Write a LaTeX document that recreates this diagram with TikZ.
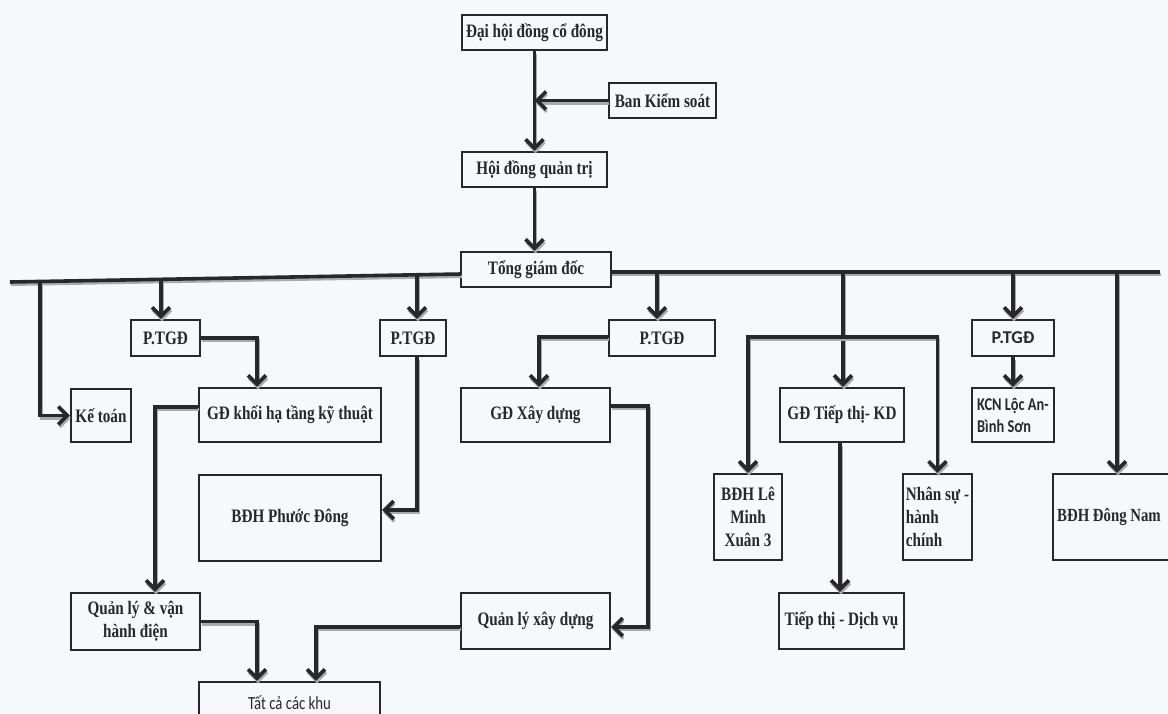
\documentclass[tikz,border=0pt]{standalone}
\usepackage{fontspec}
\newfontfamily\tnr[FakeStretch=0.8]{Liberation Serif}
\newfontfamily\calfont[FakeStretch=0.8]{Carlito}
\newfontfamily\calbfont{Carlito}
\usetikzlibrary{arrows.meta}
\definecolor{bgc}{RGB}{247,248,251}
\definecolor{ink}{RGB}{40,40,42}
\definecolor{shadowc}{RGB}{170,170,175}
\tikzset{
  box/.style={draw=ink, line width=2.4pt, fill=bgc, inner sep=2pt, text=ink,
    font=\tnr\bfseries\fontsize{19}{23}\selectfont, align=center},
  sz/.style 2 args={minimum width=#1pt, minimum height=#2pt},
  wire/.style={draw=ink, line width=3.6pt,
    preaction={draw=shadowc, line width=3pt, transform canvas={shift={(1pt,-2.5pt)}}}},
  conn/.style={wire, -{Straight Barb[length=9pt,width=18pt]}},
  calibrib/.style={font=\calbfont\bfseries\fontsize{18}{22}\selectfont},
  calibriw/.style={font=\calfont\bfseries\fontsize{18}{22}\selectfont},
}
\begin{document}
\begin{tikzpicture}[x=1pt,y=-1pt]
\fill[bgc] (0,0) rectangle (1168,713);
\useasboundingbox (0,0) rectangle (1168,713);
\clip (0,0) rectangle (1168,713);

% nodes
\node[box, sz={145}{35}] (dhcd) at (534.5,32.5) {Đại hội đồng cổ đông};
\node[box, sz={107}{35}] (bks) at (662.5,100.5) {Ban Kiểm soát};
\node[box, sz={145}{35}] (hdqt) at (534.5,169.5) {Hội đồng quản trị};
\node[box, sz={150}{35}] (tgd) at (536,269.5) {Tổng giám đốc};

\node[box, sz={60}{53}] (kt) at (101,415.5) {Kế toán};
\node[box, sz={69}{36}] (ptgd1) at (165.5,338) {P.TGĐ};
\node[box, sz={182}{54}] (gdk) at (290,415) {GĐ khối hạ tầng kỹ thuật};
\node[box, sz={66}{36}] (ptgd2) at (413,338) {P.TGĐ};
\node[box, sz={182}{86}] (bdhpd) at (290,518) {BĐH Phước Đông};
\node[box, sz={129}{57}] (qlvh) at (135.5,621.5) {Quản lý \& vận\\hành điện};
\node[box, sz={181}{42}, font=\calfont\fontsize{18.5}{22}\selectfont] (tck) at (289.5,703) {Tất cả các khu};

\node[box, sz={106}{36}] (ptgd3) at (662,338) {P.TGĐ};
\node[box, sz={149}{54}] (gdxd) at (535.5,415) {GĐ Xây dựng};
\node[box, sz={149}{56}] (qlxd) at (535.5,621) {Quản lý xây dựng};

\node[box, sz={124}{54}] (gdtt) at (842,415) {GĐ Tiếp thị- KD};
\node[box, sz={68}{86}] (lmx) at (748,517) {BĐH Lê\\Minh\\Xuân 3};
\node[box, sz={69}{86}, align=left] (ns) at (937.5,517) {Nhân sự -\\hành\\chính};
\node[box, sz={125}{56}] (ttdv) at (841.5,621) {Tiếp thị - Dịch vụ};

\node[box, sz={82}{36}, calibrib] (ptgd4) at (1013,338) {P.TGĐ};
\node[box, sz={82}{54}, calibriw, align=left] (kcn) at (1013,415) {KCN Lộc An-\\Bình Sơn};
\node[box, sz={128}{86}, font=\tnr\bfseries\fontsize{18.5}{23}\selectfont] (bdhdn) at (1117,517) {BĐH Đông Nam\hspace*{16pt}};

% bar coordinates
\coordinate (bl) at (10,282);
\coordinate (bm) at (461,274);
\coordinate (br0) at (611,272);
\coordinate (br) at (1160,272);
\coordinate (d1) at (40,281.4);
\coordinate (d2) at (161,279);
\coordinate (d3) at (417,274.8);
\coordinate (d4) at (657,272);
\coordinate (d5) at (843,272);
\coordinate (d6) at (1013,272);
\coordinate (d7) at (1117,272);
\coordinate (sb) at (843,337);

% top chain
\draw[conn] (dhcd.south) -- (hdqt.north);
\draw[conn] (bks.west) -- (bks.west -| dhcd.south);
\draw[conn] (hdqt.south) -- (hdqt.south |- tgd.north);

% bars
\draw[wire] (bl) -- (bm);
\draw[wire] (br0) -- (br);

% left side
\draw[conn] (d1) |- (kt.west);
\draw[conn] (d2) -- (d2 |- ptgd1.north);
\draw[conn] (ptgd1.east) -| ([xshift=-33pt]gdk.north);
\draw[conn] (d3) -- (d3 |- ptgd2.north);
\draw[conn] ([xshift=4pt]ptgd2.south) |- ([yshift=8pt]bdhpd.east);
\draw[conn] ([yshift=8pt]gdk.west) -| ([xshift=19.5pt]qlvh.north);
\draw[conn] (qlvh.east) -| ([xshift=-32.5pt]tck.north);
\draw[conn] ([yshift=-6pt]qlxd.west) -| ([xshift=26.5pt]tck.north);

% middle
\draw[conn] (d4) -- (d4 |- ptgd3.north);
\draw[conn] ([yshift=1pt]ptgd3.west) -| ([xshift=3.5pt]gdxd.north);
\draw[conn] ([yshift=9pt]gdxd.east) -- ++(37,0) |- ([yshift=-6pt]qlxd.east);

% right side
\draw[conn] (d5) -- (d5 |- gdtt.north);
\draw[conn] (sb) -| (lmx.north);
\draw[conn] (sb) -| (ns.north);
\draw[conn] ([xshift=-2pt]gdtt.south) -- ([xshift=-2pt]gdtt.south |- ttdv.north);
\draw[conn] (d6) -- (d6 |- ptgd4.north);
\draw[conn] (ptgd4.south) -- (kcn.north);
\draw[conn] (d7) -- (d7 |- bdhdn.north);
\end{tikzpicture}
\end{document}
